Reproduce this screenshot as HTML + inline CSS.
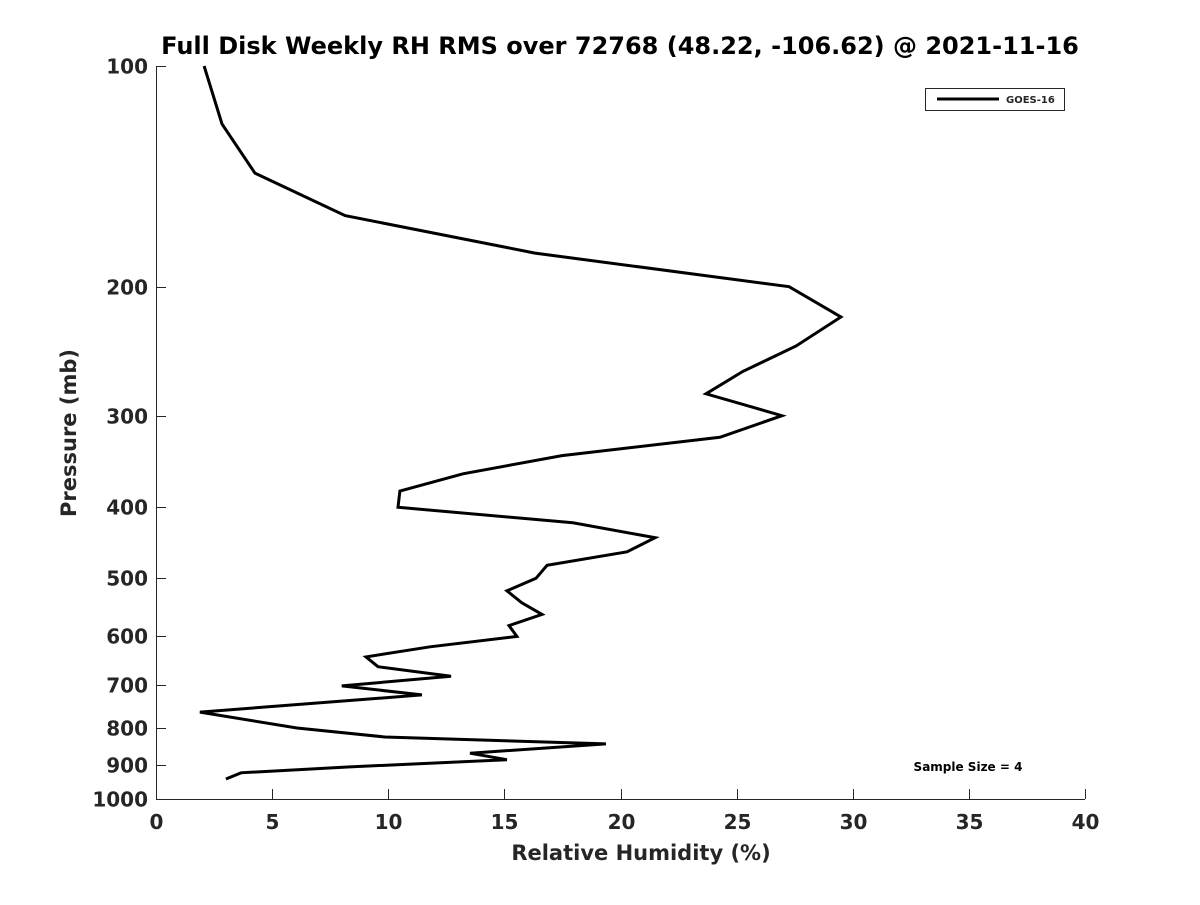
<!DOCTYPE html>
<html><head><meta charset="utf-8"><style>
body{margin:0;background:#fff;}
svg text{font-family:"DejaVu Sans","Liberation Sans",sans-serif;font-weight:bold;fill:#262626;}
</style></head><body>
<svg id="c" width="1200" height="900">
<text x="620" y="54" font-size="24" text-anchor="middle" fill="#000" style="fill:#000">Full Disk Weekly RH RMS over 72768 (48.22, -106.62) @ 2021-11-16</text>
<g id="axes"></g>
<path id="line" fill="none" stroke="#000" stroke-width="3" stroke-linejoin="miter"></path>
<g>
<rect x="925.5" y="88.5" width="139" height="22" fill="#fff" stroke="#262626"></rect>
<line x1="937" y1="99" x2="999" y2="99" stroke="#000" stroke-width="3"></line>
<text x="1006" y="103" font-size="10">GOES-16</text>
</g>
<text x="968" y="771" font-size="12" text-anchor="middle" style="fill:#000">Sample Size = 4</text>
<text x="641" y="860" font-size="21" text-anchor="middle">Relative Humidity (%)</text>
<text transform="translate(76,433) rotate(-90)" font-size="21" text-anchor="middle">Pressure (mb)</text>
</svg>
<script>
const rh=[2.07,2.84,4.26,8.14,16.32,27.26,29.49,27.56,25.27,23.68,26.95,24.28,17.48,13.22,10.5,10.42,17.95,21.49,20.28,16.84,16.36,15.11,15.75,16.62,15.2,15.54,11.8,9.04,9.56,12.7,8.0,11.45,1.89,6.07,9.86,19.37,13.52,15.11,8.35,3.66,3.01];
const pres=[100,120,140,160,180,200,220,241,261,280,300,321,340,360,380,400,420,440,460,480,500,520,540,560,580,600,620,640,660,680,701,721,761,800,823,841,866,884,904,921,939];
const xTicks=[0,5,10,15,20,25,30,35,40];
const yTicks=[100,200,300,400,500,600,700,800,900,1000];
const X=v=>156+v*(1085-156)/40;
const Y=p=>66+Math.log10(p/100)*733;
const NS='http://www.w3.org/2000/svg';
const ax=document.getElementById('axes');
function mk(t,a){const e=document.createElementNS(NS,t);for(const k in a)e.setAttribute(k,a[k]);ax.appendChild(e);return e;}
let e=mk('path',{d:'M156.5 66V799.5H1085',fill:'none',stroke:'#262626','stroke-width':1});


xTicks.forEach(v=>{const x=Math.round(X(v))+.5;
 mk('line',{x1:x,x2:x,y1:799,y2:789,stroke:'#262626'});
 const t=mk('text',{x:x,y:829,'font-size':20,'text-anchor':'middle'});t.textContent=v;
 
 });
yTicks.forEach(p=>{const y=Math.round(Y(p))+.5;
 mk('line',{x1:156,x2:166,y1:y,y2:y,stroke:'#262626'});
 const t=mk('text',{x:148,y:y+7,'font-size':20,'text-anchor':'end'});t.textContent=p;
 
 });
document.getElementById('line').setAttribute('d',rh.map((v,i)=>(i?'L':'M')+X(v).toFixed(1)+' '+Y(pres[i]).toFixed(1)).join(''));
</script>
</body></html>
